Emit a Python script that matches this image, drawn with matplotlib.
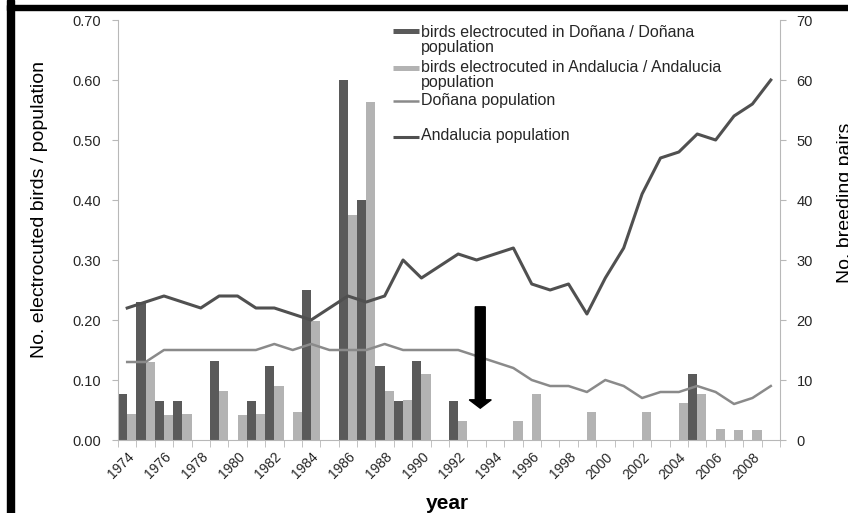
import numpy as np
import matplotlib
matplotlib.use("Agg")
import matplotlib.pyplot as plt
from matplotlib.lines import Line2D
from matplotlib.patches import Rectangle

plt.rcParams['font.family'] = ['Liberation Sans', 'DejaVu Sans']

years = list(range(1974, 2010))
donana_rate = [0.076, 0.23, 0.065, 0.065, 0, 0.132, 0, 0.065, 0.123, 0, 0.25, 0,
               0.60, 0.40, 0.123, 0.065, 0.132, 0, 0.065, 0, 0, 0, 0, 0,
               0, 0, 0, 0, 0, 0, 0, 0.11, 0, 0, 0, 0]
andalucia_rate = [0.044, 0.13, 0.041, 0.043, 0, 0.082, 0.041, 0.044, 0.09, 0.046, 0.199, 0,
                  0.375, 0.564, 0.082, 0.066, 0.11, 0, 0.031, 0, 0, 0.031, 0.076, 0,
                  0, 0.046, 0, 0, 0.047, 0, 0.062, 0.077, 0.019, 0.017, 0.017, 0]
donana_pop = [13, 13, 15, 15, 15, 15, 15, 15, 16, 15, 16, 15,
              15, 15, 16, 15, 15, 15, 15, 14, 13, 12, 10, 9,
              9, 8, 10, 9, 7, 8, 8, 9, 8, 6, 7, 9]
andalucia_pop = [22, 23, 24, 23, 22, 24, 24, 22, 22, 21, 20, 22,
                 24, 23, 24, 30, 27, 29, 31, 30, 31, 32, 26, 25,
                 26, 21, 27, 32, 41, 47, 48, 51, 50, 54, 56, 60]
arrow_year = 1993.2
arrow_top, arrow_tip = 0.222, 0.053

legend_labels = ["birds electrocuted in Doñana / Doñana", "population",
                 "birds electrocuted in Andalucia / Andalucia", "population",
                 "Doñana population", "Andalucia population"]

dark = '#5a5a5a'
light = '#b3b3b3'
line_light = '#8a8a8a'
line_dark = '#505050'
spine_c = '#b8b8b8'
txt_c = '#262626'

W, H = 848, 513
fig = plt.figure(figsize=(W / 100, H / 100), dpi=100)
ax = fig.add_axes([118 / W, 1 - 440 / H, 662 / W, 420 / H])

x = np.arange(len(years))
ax.bar(x - 0.25, donana_rate, width=0.5, color=dark, zorder=2)
ax.bar(x + 0.25, andalucia_rate, width=0.5, color=light, zorder=2)
ax.set_xlim(-0.5, len(years) - 0.5)
ax.set_ylim(0, 0.7)
ax.set_yticks(np.arange(0, 0.71, 0.1))
ax.set_yticklabels([f"{v:.2f}" for v in np.arange(0, 0.71, 0.1)], fontsize=10.5, color=txt_c)
ax.set_xticks(x[::2])
ax.set_xticklabels([str(y) for y in years[::2]], rotation=45, ha='right',
                   rotation_mode='anchor', fontsize=10, color=txt_c)
ax.set_xticks(np.arange(-0.5, len(years)), minor=True)
ax.tick_params(axis='x', which='major', length=0, pad=7)
ax.tick_params(axis='x', which='minor', length=5, color=spine_c, direction='out')
ax.tick_params(axis='y', length=4, color=spine_c, direction='out', pad=8)
for s in ['top', 'right']:
    ax.spines[s].set_visible(False)
for s in ['left', 'bottom']:
    ax.spines[s].set_color(spine_c)

ax2 = ax.twinx()
ax2.plot(x, donana_pop, color=line_light, lw=1.8, zorder=3)
ax2.plot(x, andalucia_pop, color=line_dark, lw=2.2, zorder=3)
ax2.set_ylim(0, 70)
ax2.set_yticks(range(0, 71, 10))
ax2.set_yticklabels([str(v) for v in range(0, 71, 10)], fontsize=10.5, color=txt_c)
ax2.tick_params(axis='y', length=4, color=spine_c, direction='out', pad=8)
for s in ['top', 'left', 'bottom']:
    ax2.spines[s].set_visible(False)
ax2.spines['right'].set_color(spine_c)

# arrow (left-axis values converted to right-axis units)
xa = arrow_year - years[0]
scale = 70 / 0.7
ax2.arrow(xa, arrow_top * scale, 0, (arrow_tip - arrow_top) * scale,
          width=0.54, head_width=1.2, head_length=1.4, length_includes_head=True,
          color='black', zorder=5)

# axis titles
fig.text(40 / W, 1 - 210 / H, "No. electrocuted birds / population", rotation=90,
         ha='center', va='center', fontsize=14, color='black')
fig.text(845 / W, 1 - 283 / H, "No. breeding pairs", rotation=90,
         ha='center', va='bottom', fontsize=14, color='black')
fig.text(447 / W, 1 - 509 / H, "year", ha='center', va='baseline',
         fontsize=15, fontweight='bold', color='black')

# legend (Excel style)
hx0, hx1, tx = 393 / W, 419 / W, 421 / W
handles = [(30.8, dark, 3.6), (67.5, light, 3.6), (100.7, line_light, 1.8), (136.7, line_dark, 2.2)]
for yy, c, lw in handles:
    fig.add_artist(Line2D([hx0, hx1], [1 - yy / H] * 2, color=c, lw=lw,
                          solid_capstyle='butt', transform=fig.transFigure))
baselines = [36.7, 51.7, 71.7, 86.7, 105, 140]
for lab, b in zip(legend_labels, baselines):
    fig.text(tx, 1 - b / H, lab, ha='left', va='baseline', fontsize=11.5, color=txt_c)

# black frame
fig.add_artist(Rectangle((7 / W, 0), 7 / W, 1, color='black', transform=fig.transFigure))
fig.add_artist(Rectangle((7 / W, 1 - 10 / H), 1, 5 / H, color='black', transform=fig.transFigure))

fig.savefig("out.png", dpi=100)
